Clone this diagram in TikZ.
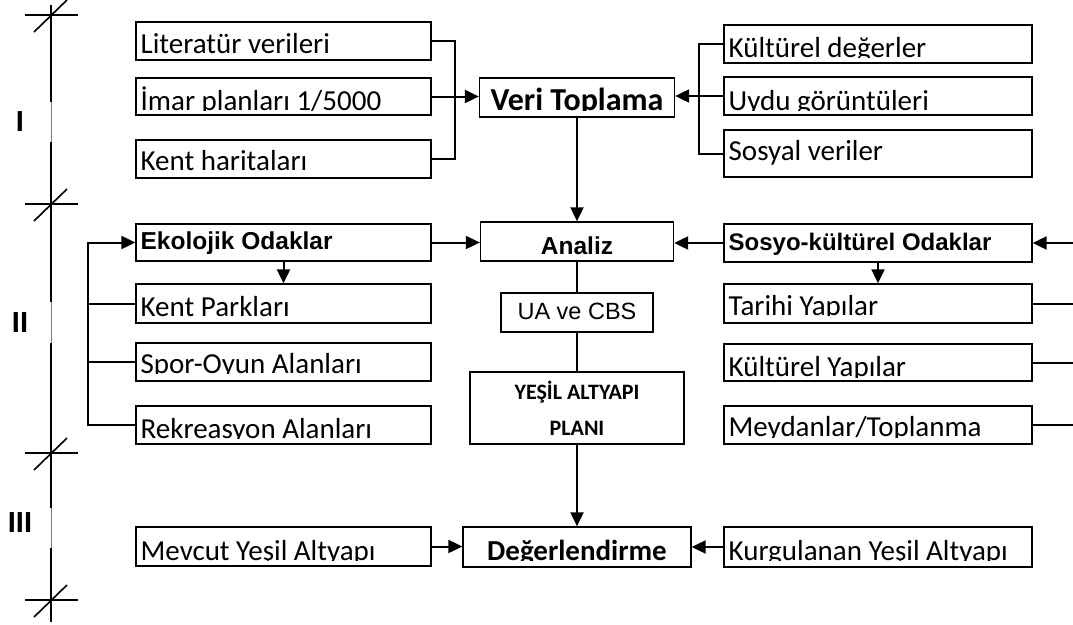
\documentclass[tikz,border=0pt]{standalone}
\usepackage{fontspec}
\newfontfamily\calibri{Carlito}
\newfontfamily\arial{Liberation Sans}
\usetikzlibrary{arrows.meta}
\newcommand{\boxtxt}{\calibri\fontsize{29}{32}\selectfont}
\newcommand{\boxbf}{\calibri\bfseries\fontsize{32}{34}\selectfont}
\newcommand{\boxar}{\arial\bfseries\fontsize{24.5}{28}\selectfont}
\tikzset{box/.style={draw,line width=1.3pt,inner sep=0pt},
	 intxt/.style={draw=none,inner sep=0pt,minimum size=0pt,font=\boxtxt},
	 tbox/.style n args={3}{box,path picture={
		\clip ([yshift=#2pt]path picture bounding box.south west) rectangle (path picture bounding box.north east);
		\node[intxt,anchor=base west] at ([shift={(4pt,#1pt)}]path picture bounding box.south west) {#3};}},
	 cbox/.style n args={3}{box,path picture={
		\clip ([yshift=#2pt]path picture bounding box.south west) rectangle (path picture bounding box.north east);
		\node[intxt,anchor=base] at ([yshift=#1pt]path picture bounding box.south) {#3};}},
	 conn/.style={line width=2pt},
	 arr/.style={conn,-{Triangle[length=14pt,width=13pt]}},
	 axis/.style={line width=1.6pt}
	 }

\begin{document}
\begin{tikzpicture}[x=1pt,y=-1pt]
	\useasboundingbox (0,0) rectangle (1073,624);
	% stage axis
	\draw[axis] (51,5) -- (51,102); \draw[gray,line width=0.4pt] (51,102) -- (51,142);
	\draw[axis] (51,142) -- (51,302); \draw[gray,line width=0.4pt] (51,302) -- (51,343);
	\draw[axis] (51,343) -- (51,508); \draw[gray,line width=0.4pt] (51,508) -- (51,548);
	\draw[axis] (51,548) -- (51,622);
	\foreach \y in {15,204,453,600} {
		\draw[axis] (25,\y) -- (78,\y);
		\draw[axis] (34,\y+17) -- (67,\y-15);
	}
	\node[font=\arial\bfseries\fontsize{29}{30}\selectfont] (s1) at (20,122) {I};
	\node[font=\arial\bfseries\fontsize{29}{30}\selectfont] (s2) at (20,323) {II};
	\node[font=\arial\bfseries\fontsize{29}{30}\selectfont] (s3) at (20,523) {III};
	% stage I
	\node[tbox={6.7}{0}{Literatür verileri},minimum width=295pt,minimum height=38pt] (lit) at (283.5,41) {};
	\node[tbox={5}{4.5}{İmar planları 1/5000},minimum width=295pt,minimum height=37pt] (imar) at (283.5,96.5) {};
	\node[tbox={8}{0}{Kent haritaları},minimum width=295pt,minimum height=38pt] (kh) at (283.5,159) {};
	\node[tbox={5.7}{5.2}{Kültürel değerler},minimum width=308pt,minimum height=38pt] (kd) at (878,44) {};
	\node[tbox={5}{4.5}{Uydu görüntüleri},minimum width=308pt,minimum height=38pt] (uydu) at (878,96) {};
	\node[tbox={17}{0}{Sosyal veriler},minimum width=308pt,minimum height=47pt] (sv) at (878,153.5) {};
	\node[cbox={7}{6.5}{\boxbf Veri Toplama},minimum width=195pt,minimum height=39pt] (vt) at (577,97.5) {};
	\coordinate (tl) at (455,0);
	\coordinate (tr) at (699,0);
	\draw[conn] (lit.east) -| (tl |- kh.east) -- (kh.east);
	\draw[arr] (imar.east) -- (imar.east -| vt.west);
	\draw[conn] (kd.west) -| (tr |- sv.west) -- (sv.west);
	\draw[arr] (uydu.west) -- (uydu.west -| vt.east);
	% stage II
	\node[cbox={7}{0}{\boxar Analiz},minimum width=193pt,minimum height=39pt] (an) at (577,241.5) {};
	\node[tbox={12}{0}{\boxar Ekolojik Odaklar},minimum width=295pt,minimum height=37pt] (eko) at (283.5,242.5) {};
	\node[tbox={12}{0}{\arial\bfseries\fontsize{24}{28}\selectfont Sosyo-kültürel Odaklar},minimum width=308pt,minimum height=38pt] (sos) at (878,243) {};
	\node[tbox={6.3}{0}{Kent Parkları},minimum width=295pt,minimum height=39pt] (kp) at (283.5,303.5) {};
	\node[tbox={8}{7.5}{Spor-Oyun Alanları},minimum width=295pt,minimum height=38pt] (spor) at (283.5,362) {};
	\node[tbox={6}{5.5}{Rekreasyon Alanları},minimum width=295pt,minimum height=38pt] (rek) at (283.5,425) {};
	\node[tbox={8}{7.5}{Tarihi Yapılar},minimum width=308pt,minimum height=39pt] (tar) at (878,303.5) {};
	\node[tbox={4.3}{3.8}{Kültürel Yapılar},minimum width=308pt,minimum height=37pt] (ky) at (878,362.5) {};
	\node[tbox={7.3}{6.8}{Meydanlar/Toplanma},minimum width=308pt,minimum height=38pt] (mey) at (878,425) {};
	\node[cbox={13}{0}{\arial\fontsize{23.5}{26}\selectfont UA ve CBS},minimum width=152pt,minimum height=39pt] (ua) at (577,312.5) {};
	\node[box,align=center,font=\calibri\bfseries\fontsize{22}{36}\selectfont,minimum width=214pt,minimum height=72pt] (yp) at (577,408) {YEŞİL ALTYAPI\\PLANI};
	\coordinate (lb) at (88,0);
	\coordinate (re) at (1073,243);
	\draw[arr] (vt) -- (an);
	\draw[arr] (eko.east) -- (eko.east -| an.west);
	\draw[arr] (sos.west) -- (sos.west -| an.east);
	\draw[arr] (re) -- (sos.east);
	\draw[arr] (eko.south) -- (eko.south |- kp.north);
	\draw[arr] (sos.south) -- (sos.south |- tar.north);
	\draw[arr] (rek.west) -- (rek.west -| lb) |- (eko.west);
	\draw[conn] (kp.west) -- (kp.west -| lb);
	\draw[conn] (spor.west) -- (spor.west -| lb);
	\draw[conn] (tar.east) -- (tar.east -| re);
	\draw[conn] (ky.east) -- (ky.east -| re);
	\draw[conn] (mey.east) -- (mey.east -| re);
	\draw[conn] (an) -- (ua) -- (yp);
	% stage III
	\node[cbox={7}{6.5}{\calibri\bfseries\fontsize{29}{30}\selectfont Değerlendirme},minimum width=228pt,minimum height=40pt] (deg) at (577,547) {};
	\node[tbox={6}{5.5}{Mevcut Yeşil Altyapı},minimum width=295pt,minimum height=39pt] (mev) at (283.5,546.5) {};
	\node[tbox={7}{6.5}{Kurgulanan Yeşil Altyapı},minimum width=308pt,minimum height=40pt] (kur) at (878,547) {};
	\draw[arr] (yp) -- (deg);
	\draw[arr] (mev.east) -- (mev.east -| deg.west);
	\draw[arr] (kur.west) -- (kur.west -| deg.east);
\end{tikzpicture}
\end{document}
